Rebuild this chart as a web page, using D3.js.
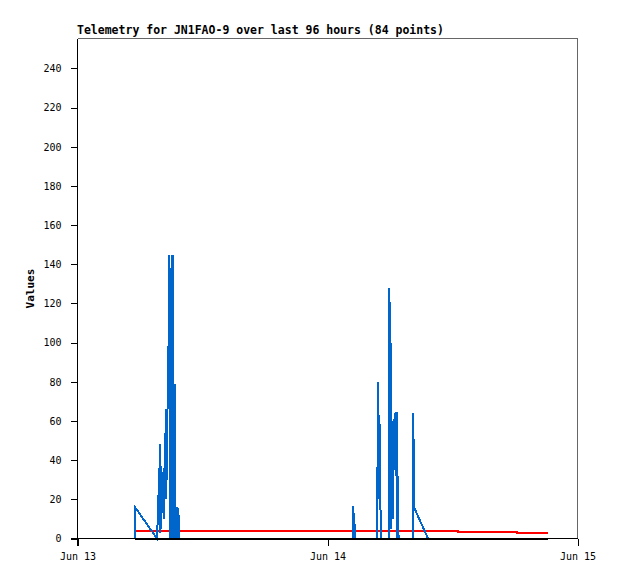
<!DOCTYPE html>
<html>
<head>
<meta charset="utf-8">
<script src="https://cdn.jsdelivr.net/npm/d3@7"></script>
<style>
  body { margin: 0; background: #fff; }
  text { font-family: "DejaVu Sans Mono", "Liberation Mono", monospace; }
  path, line { shape-rendering: crispEdges; }
</style>
</head>
<body>
<svg id="chart"></svg>
<script>
// data: hours after Jun 13 00:00 and values
var title = "Telemetry for JN1FAO-9 over last 96 hours (84 points)";
var yLabel = "Values";
var yTicks = [0, 20, 40, 60, 80, 100, 120, 140, 160, 180, 200, 220, 240];
var xTickLabels = ["Jun 13", "Jun 14", "Jun 15"];

var blueHours = [5.52, 5.52, 7.63, 7.73, 7.85, 7.90, 7.95, 8.02, 8.11, 8.28, 8.33, 8.40, 8.45, 8.50, 8.59,
  8.66, 8.72, 8.83, 8.90, 8.98, 9.03, 9.12, 9.20, 9.26, 9.33, 9.39, 9.46, 9.55, 9.60, 9.65, 9.72, 9.76,
  26.45, 26.48, 26.54, 26.59, 26.64,
  28.75, 28.78, 28.88, 28.94, 28.99, 29.07, 29.14,
  29.90, 29.95, 30.00, 30.05, 30.10, 30.14, 30.19, 30.24, 30.29, 30.38, 30.48, 30.58, 30.62, 30.67, 30.72, 30.77, 30.82,
  32.21, 32.24, 32.30, 33.65, 45.17];
var blueValues = [0, 16, 0, 13, 36, 3, 48, 5, 20, 36, 10, 54, 20, 66, 30,
  79, 90, 145, 0, 112, 0, 145, 0, 40, 79, 0, 16, 0, 16, 0, 12, 0,
  0, 16.5, 4, 8, 0,
  0, 24.5, 80, 20, 60, 20, 0,
  0, 128, 10, 100, 5, 64, 20, 56, 10, 58, 64, 32, 64, 64, 0, 32, 0,
  0, 64, 16, 0, 0];

var redHours = [5.52, 36.53, 42.19, 45.17];
var redValues = [3.7, 3.1, 2.6, 2.6];

var blackHours = [5.52, 45.17];
var blackValues = [0, 0];

// set the dimensions and margins of the graph
var margin = {top: 38, right: 40, bottom: 41, left: 77},
width = 618 - margin.left - margin.right,
height = 579 - margin.top - margin.bottom;

var svg = d3.select("#chart")
.attr("width", 618)
.attr("height", 579)
.append("g")
.attr("transform", "translate(" + (margin.left + 0.5) + "," + (margin.top + 0.5) + ")");

var start = Date.UTC(2024, 5, 13);
function toDate(h) { return new Date(start + h * 3600000); }

var x = d3.scaleUtc()
.domain([toDate(0), toDate(48)])
.range([0, 500]);

var y = d3.scaleLinear()
.domain([0, 255.3])
.range([500, 0]);

// frame (top / right)
svg.append("path")
.attr("d", "M0,0H500V500")
.attr("fill", "none")
.attr("stroke", "#666")
.attr("stroke-width", 1);

// lines
function series(hours, values) {
  return hours.map(function(h, i) { return {t: toDate(h), v: values[i]}; });
}
var line = d3.line()
.x(function(d) { return x(d.t); })
.y(function(d) { return y(d.v); });

svg.append("path")
.datum(series(redHours, redValues))
.attr("fill", "none")
.attr("stroke", "#ff0000")
.attr("stroke-width", 2)
.attr("d", line.curve(d3.curveStepAfter));

svg.append("path")
.datum(series(blueHours, blueValues))
.attr("fill", "none")
.attr("stroke", "#0066cc")
.attr("stroke-width", 2)
.attr("d", line.curve(d3.curveLinear));

svg.append("path")
.datum(series(blackHours, blackValues))
.attr("fill", "none")
.attr("stroke", "#000")
.attr("stroke-width", 2)
.attr("d", line);

// Y axis
var yAxis = svg.append("g")
.call(d3.axisLeft(y).tickValues(yTicks).tickSize(7).tickPadding(9));
yAxis.select(".domain").attr("d", "M0,0V507");

// X axis
var xAxis = svg.append("g")
.attr("transform", "translate(0,500)")
.call(d3.axisBottom(x)
  .tickValues([toDate(0), toDate(24), toDate(48)])
  .tickFormat(function(d, i) { return xTickLabels[i]; })
  .tickSize(7).tickPadding(7));
xAxis.select(".domain").attr("d", "M-7,0H500");

svg.selectAll(".tick text")
.attr("font-family", "DejaVu Sans Mono")
.attr("font-size", "10px")
.attr("fill", "#000");

// title
svg.append("text")
.attr("x", -0.5)
.attr("y", -4.5)
.attr("font-size", "11.5px")
.attr("font-weight", "bold")
.text(title);

// y label
svg.append("text")
.attr("transform", "translate(-44,250)rotate(-90)")
.attr("text-anchor", "middle")
.attr("font-size", "11px")
.attr("font-weight", "bold")
.text(yLabel);
</script>
</body>
</html>
